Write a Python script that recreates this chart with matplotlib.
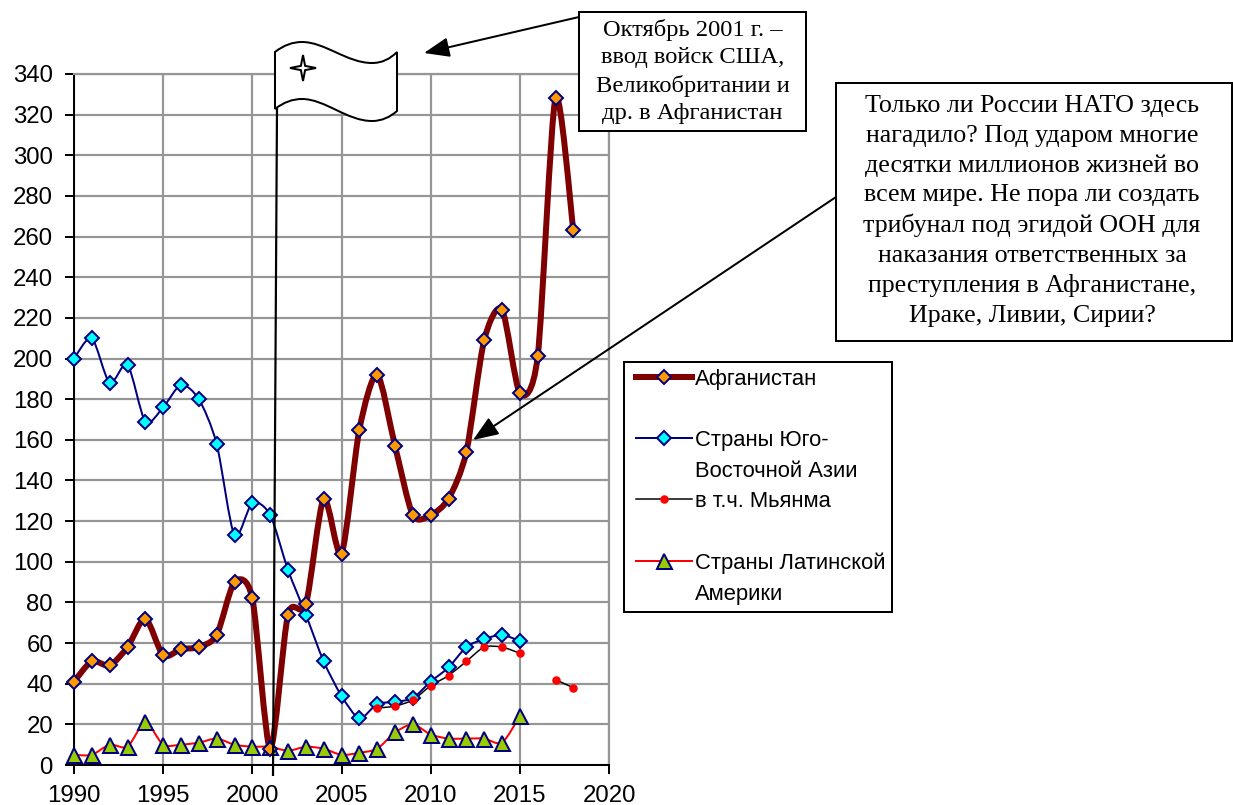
import numpy as np
import matplotlib
matplotlib.use("Agg")
import matplotlib.pyplot as plt
from matplotlib.lines import Line2D
from matplotlib.path import Path
from matplotlib.patches import PathPatch, Rectangle
from matplotlib.legend_handler import HandlerLine2D

WIDTH, HEIGHT = 1233, 805

years = list(range(1990, 2019))
afghanistan = [41, 51, 49, 58, 72, 54, 57, 58, 64, 90, 82, 8, 74, 79, 131,
               104, 165, 192, 157, 123, 123, 131, 154, 209, 224, 183, 201, 328, 263]
se_asia = [200, 210, 188, 197, 169, 176, 187, 180, 158, 113, 129, 123, 96, 74, 51,
           34, 23, 30, 31, 33, 41, 48, 58, 62, 64, 61, None, None, None]
myanmar = [None] * 17 + [28, 29, 32, 39, 44, 51, 58, 58, 55, None, 42, 38]
latin_america = [5, 5, 10, 9, 21, 10, 10, 11, 13, 10, 9, 9, 7, 9, 8,
                 5, 6, 8, 16, 20, 15, 13, 13, 13, 11, 24, None, None, None]

x_ticks = [1990, 1995, 2000, 2005, 2010, 2015, 2020]
y_ticks = list(range(0, 341, 20))

names = ["Афганистан\n", "Страны Юго-\nВосточной Азии", "в т.ч. Мьянма\n",
         "Страны Латинской\nАмерики"]
note_troops = "Октябрь 2001 г. –\nввод войск США,\nВеликобритании и\nдр. в Афганистан"
note_nato = ("Только ли России НАТО здесь\nнагадило? Под ударом многие\n"
             "десятки миллионов жизней во\nвсем мире. Не пора ли создать\n"
             "трибунал под эгидой ООН для\nнаказания ответственных за\n"
             "преступления в Афганистане,\nИраке, Ливии, Сирии?")

NAVY = "#000080"
GRID = "#969696"


def px(n):
    """Pixels to points at dpi 100."""
    return n * 0.72


class FirstLineHandler(HandlerLine2D):
    """Legend line next to the first line of a two-line label."""

    def create_artists(self, legend, orig_handle, xdescent, ydescent, width, height, fontsize, trans):
        return super().create_artists(legend, orig_handle, xdescent - 0.25 * fontsize, ydescent,
                                      width, height + 1.64 * fontsize, fontsize, trans)


def smooth_path(xs, ys):
    """Bezier path through the points, like an Excel smoothed line."""
    pts = np.column_stack([xs, ys]).astype(float)
    verts = [pts[0]]
    codes = [Path.MOVETO]
    for i in range(len(pts) - 1):
        before = pts[max(i - 1, 0)]
        after = pts[min(i + 2, len(pts) - 1)]
        verts += [pts[i] + (pts[i + 1] - before) / 7.5,
                  pts[i + 1] - (after - pts[i]) / 7.5,
                  pts[i + 1]]
        codes += [Path.CURVE4] * 3
    return Path(verts, codes)


def draw_series(ax, values, color, lw, **marker):
    """Smoothed line for each unbroken run, then the markers on top."""
    run_x, run_y = [], []
    for year, value in zip(years + [None], values + [None]):
        if value is None:
            if len(run_x) > 1:
                ax.add_patch(PathPatch(smooth_path(run_x, run_y), fill=False, edgecolor=color,
                                       lw=lw, capstyle="round", joinstyle="round", zorder=3))
            run_x, run_y = [], []
        else:
            run_x.append(year)
            run_y.append(value)
    xs = [y for y, v in zip(years, values) if v is not None]
    ys = [v for v in values if v is not None]
    ax.plot(xs, ys, ls="none", clip_on=False, zorder=4, **marker)
    return Line2D([], [], color=color, lw=lw, **marker)


fig = plt.figure(figsize=(WIDTH / 100, HEIGHT / 100), dpi=100)
ax = fig.add_axes([74 / WIDTH, 1 - 765 / HEIGHT, (609 - 74) / WIDTH, (765 - 74) / HEIGHT])
ax.set_xlim(1990, 2020)
ax.set_ylim(0, 340)
ax.set_xticks(x_ticks)
ax.set_yticks(y_ticks)
ax.grid(True, color=GRID, lw=px(2.2))
ax.set_axisbelow(True)
for side in ["top", "right"]:
    ax.spines[side].set_color(GRID)
    ax.spines[side].set_linewidth(px(2.2))
for side in ["left", "bottom"]:
    ax.spines[side].set_color("black")
    ax.spines[side].set_linewidth(px(2))
ax.tick_params(length=px(9), width=px(2), labelsize=px(24), labelfontfamily="Liberation Sans")
ax.tick_params(axis="x", pad=px(11))
ax.tick_params(axis="y", pad=px(12))

h_latin = draw_series(ax, latin_america, "#FF0000", px(2), marker="^", ms=px(15),
                      mfc="#99CC00", mec=NAVY, mew=px(2))
h_se = draw_series(ax, se_asia, NAVY, px(2), marker="D", ms=px(10.5),
                   mfc="#00FFFF", mec=NAVY, mew=px(2))
h_my = draw_series(ax, myanmar, "black", px(1.5), marker="o", ms=px(8.5),
                   mfc="#FF0000", mec="#FF0000", mew=0)
h_af = draw_series(ax, afghanistan, "#7F0000", px(6), marker="D", ms=px(9.5),
                   mfc="#FF9900", mec=NAVY, mew=px(2))

# overlay in image pixels for the flag, the notes and the arrows
over = fig.add_axes([0, 0, 1, 1], zorder=5)
over.set_xlim(0, WIDTH)
over.set_ylim(HEIGHT, 0)
over.axis("off")
over.patch.set_alpha(0)

over.plot([277, 273], [108, 776], color="black", lw=px(2.2), solid_capstyle="butt", zorder=2)

# top edge left to right, then bottom edge right to left
flag_verts = [(275, 52), (284, 45), (293, 42), (302, 42), (325, 42), (347, 63), (372, 63), (382, 63), (390, 59), (397, 52),
              (397, 111), (390, 117), (382, 121), (372, 121), (347, 121), (325, 99), (302, 99), (293, 99), (284, 102), (275, 109),
              (275, 52)]
flag_codes = [Path.MOVETO] + [Path.CURVE4] * 9 + [Path.LINETO] + [Path.CURVE4] * 9 + [Path.CLOSEPOLY]
over.add_patch(PathPatch(Path(flag_verts, flag_codes), facecolor="white", edgecolor="black", lw=px(2), zorder=3))

star_x, star_y = 303, 68
outer, inner = 13, 3
star = []
for k in range(8):
    r = outer if k % 2 == 0 else inner
    ang = np.pi / 2 - k * np.pi / 4
    star.append((star_x + r * np.cos(ang), star_y - r * np.sin(ang)))
over.add_patch(plt.Polygon(star, closed=True, facecolor="white", edgecolor="black", lw=px(2), zorder=4))

over.add_patch(Rectangle((579, 12), 227, 119, facecolor="white", edgecolor="black", lw=px(2), zorder=3))
over.text(692.5, 71.5, note_troops, family="Liberation Serif", fontsize=px(24.5), ha="center", va="center",
          linespacing=1.40, zorder=4)
over.add_patch(Rectangle((836, 83), 396, 258, facecolor="white", edgecolor="black", lw=px(2), zorder=3))
over.text(1032, 211, note_nato, family="Liberation Serif", fontsize=px(26), ha="center", va="center",
          linespacing=1.43, zorder=4)

for start, end in [((579, 17), (424, 53)), ((836, 197), (473, 440))]:
    over.annotate("", xy=end, xytext=start, zorder=4,
                  arrowprops=dict(arrowstyle="-|>,head_length=0.9,head_width=0.35", color="black",
                                  lw=px(2), mutation_scale=px(24), shrinkA=0, shrinkB=0))

leg = fig.legend([h_af, h_se, h_my, h_latin], names, loc="upper left",
                 bbox_to_anchor=(624 / WIDTH, 1 - 612 / HEIGHT, 268 / WIDTH, 250 / HEIGHT),
                 mode="expand", borderaxespad=0, borderpad=0.3, labelspacing=0.41, numpoints=1,
                 handlelength=2.55, handletextpad=0.38, fancybox=False, framealpha=1, edgecolor="black",
                 prop={"family": "Liberation Sans", "size": px(22)},
                 handler_map={Line2D: FirstLineHandler()})
leg.get_frame().set_linewidth(px(2))
leg.set_zorder(6)
for t in leg.get_texts():
    t.set_linespacing(1.64)

fig.savefig("out.png", dpi=100, facecolor="white")
